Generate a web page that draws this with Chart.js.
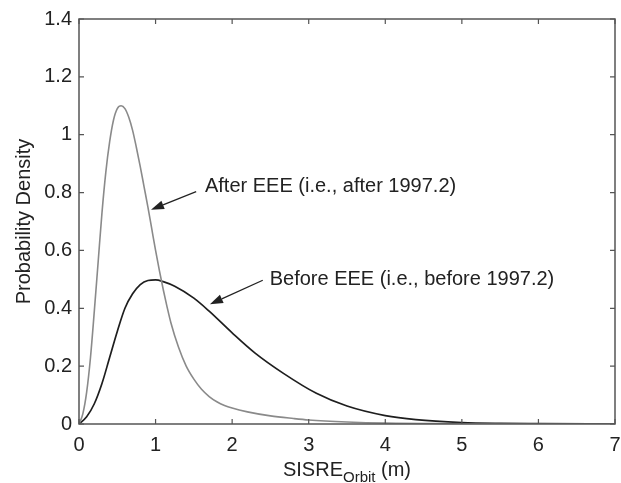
<!DOCTYPE html>
<html>
<head>
<meta charset="utf-8">
<script src="https://cdn.jsdelivr.net/npm/chart.js@4.4.1/dist/chart.umd.min.js"></script>
<style>
  html, body { margin: 0; padding: 0; background: #fff; }
  #wrap { width: 621px; height: 483px; }
</style>
</head>
<body>
<div id="wrap"><canvas id="pdf"></canvas></div>
<script>
// After EEE curve (gray)
const afterX = [0, 0.05, 0.1, 0.15, 0.2, 0.25, 0.3, 0.35, 0.4, 0.45, 0.5, 0.55, 0.6, 0.65, 0.7, 0.75, 0.8, 0.85, 0.9, 0.95, 1.0, 1.05, 1.1, 1.15, 1.2, 1.3, 1.4, 1.5, 1.6, 1.7, 1.8, 1.9, 2.0, 2.2, 2.5, 2.8, 3.0, 3.5, 4.0, 5.0, 6.0, 7.0];
const afterY = [0, 0.035, 0.11, 0.23, 0.39, 0.56, 0.73, 0.87, 0.975, 1.05, 1.09, 1.10, 1.09, 1.06, 1.015, 0.955, 0.89, 0.82, 0.75, 0.675, 0.60, 0.53, 0.465, 0.405, 0.35, 0.265, 0.20, 0.155, 0.12, 0.095, 0.077, 0.064, 0.055, 0.042, 0.028, 0.019, 0.014, 0.007, 0.003, 0.001, 0, 0];

// Before EEE curve (black)
const beforeX = [0, 0.1, 0.2, 0.3, 0.4, 0.5, 0.6, 0.7, 0.8, 0.9, 1.0, 1.1, 1.25, 1.5, 1.7, 2.0, 2.3, 2.67, 3.1, 3.5, 4.0, 4.4, 5.0, 5.5, 6.0, 7.0];
const beforeY = [0, 0.025, 0.07, 0.14, 0.23, 0.32, 0.40, 0.45, 0.482, 0.496, 0.498, 0.492, 0.476, 0.435, 0.39, 0.315, 0.245, 0.175, 0.106, 0.062, 0.029, 0.015, 0.005, 0.002, 0.001, 0];

const xTicks = ['0', '1', '2', '3', '4', '5', '6', '7'];
const yTicks = ['0', '0.2', '0.4', '0.6', '0.8', '1', '1.2', '1.4'];

const toPoints = (xs, ys) => xs.map((x, i) => ({ x: x, y: ys[i] }));

const FONT = '"Liberation Sans", Arial, Helvetica, sans-serif';
const TXT = '#222';

// callouts (data coordinates)
const notes = [
  { text: 'After EEE (i.e., after 1997.2)', tx: 1.645, ty: 0.82, from: [1.53, 0.803], to: [0.94, 0.741] },
  { text: 'Before EEE (i.e., before 1997.2)', tx: 2.49, ty: 0.50, from: [2.40, 0.497], to: [1.71, 0.414] }
];

const framePlugin = {
  id: 'frame',
  afterDraw(chart) {
    const { ctx, chartArea: a, scales: { x, y } } = chart;
    ctx.save();
    // box + inward ticks
    ctx.strokeStyle = '#555';
    ctx.lineWidth = 1.5;
    ctx.strokeRect(a.left, a.top, a.right - a.left, a.bottom - a.top);
    ctx.lineWidth = 1.2;
    ctx.beginPath();
    x.ticks.forEach(t => {
      const px = x.getPixelForValue(t.value);
      ctx.moveTo(px, a.bottom); ctx.lineTo(px, a.bottom - 5);
      ctx.moveTo(px, a.top); ctx.lineTo(px, a.top + 5);
    });
    y.ticks.forEach(t => {
      const py = y.getPixelForValue(t.value);
      ctx.moveTo(a.left, py); ctx.lineTo(a.left + 5, py);
      ctx.moveTo(a.right, py); ctx.lineTo(a.right - 5, py);
    });
    ctx.stroke();

    // callouts
    ctx.fillStyle = TXT;
    ctx.strokeStyle = TXT;
    ctx.font = '20px ' + FONT;
    ctx.textBaseline = 'middle';
    ctx.textAlign = 'left';
    notes.forEach(n => {
      ctx.fillText(n.text, x.getPixelForValue(n.tx), y.getPixelForValue(n.ty));
      const x0 = x.getPixelForValue(n.from[0]), y0 = y.getPixelForValue(n.from[1]);
      const x1 = x.getPixelForValue(n.to[0]), y1 = y.getPixelForValue(n.to[1]);
      const ang = Math.atan2(y1 - y0, x1 - x0);
      const hl = 13, hw = 4.5;
      const bx = x1 - hl * Math.cos(ang), by = y1 - hl * Math.sin(ang);
      ctx.lineWidth = 1.3;
      ctx.beginPath(); ctx.moveTo(x0, y0); ctx.lineTo(bx, by); ctx.stroke();
      ctx.beginPath();
      ctx.moveTo(x1, y1);
      ctx.lineTo(bx + hw * Math.sin(ang), by - hw * Math.cos(ang));
      ctx.lineTo(bx - hw * Math.sin(ang), by + hw * Math.cos(ang));
      ctx.closePath(); ctx.fill();
    });

    // x axis title with subscript
    ctx.textBaseline = 'alphabetic';
    const cx = (a.left + a.right) / 2;
    const parts = [['SISRE', 20, 0], ['Orbit', 15, 6], [' (m)', 20, 0]];
    let w = 0;
    parts.forEach(p => { ctx.font = p[1] + 'px ' + FONT; w += ctx.measureText(p[0]).width; });
    let px = cx - w / 2;
    const base = 476;
    parts.forEach(p => {
      ctx.font = p[1] + 'px ' + FONT;
      ctx.fillText(p[0], px, base + p[2]);
      px += ctx.measureText(p[0]).width;
    });
    ctx.restore();
  }
};

new Chart(document.getElementById('pdf'), {
  type: 'scatter',
  data: {
    datasets: [
      { label: 'After EEE', data: toPoints(afterX, afterY), showLine: true, borderColor: '#8a8a8a', borderWidth: 1.6, pointRadius: 0, cubicInterpolationMode: 'monotone' },
      { label: 'Before EEE', data: toPoints(beforeX, beforeY), showLine: true, borderColor: '#1e1e1e', borderWidth: 1.7, pointRadius: 0, cubicInterpolationMode: 'monotone' }
    ]
  },
  options: {
    responsive: true,
    maintainAspectRatio: false,
    animation: false,
    layout: { padding: { left: 0, right: 6, top: 18, bottom: 0 } },
    plugins: { legend: { display: false }, tooltip: { enabled: false } },
    scales: {
      x: {
        type: 'linear', min: 0, max: 7,
        grid: { display: false, drawTicks: false },
        border: { display: false },
        ticks: { stepSize: 1, padding: 9, color: TXT, font: { family: FONT, size: 20 }, maxRotation: 0,
          callback: (v) => xTicks[Math.round(v)] },
        afterFit: (s) => { s.height = 59; s.paddingRight = 0; s.paddingLeft = 0; }
      },
      y: {
        type: 'linear', min: 0, max: 1.4,
        grid: { display: false, drawTicks: false },
        border: { display: false },
        ticks: { stepSize: 0.2, padding: 7, color: TXT, font: { family: FONT, size: 20 },
          callback: (v) => yTicks[Math.round(v / 0.2)] },
        title: { display: true, text: 'Probability Density', color: TXT, font: { family: FONT, size: 20 }, padding: { top: 12, bottom: 0 } },
        afterFit: (s) => { s.width = 79; }
      }
    }
  },
  plugins: [framePlugin]
});
</script>
</body>
</html>
